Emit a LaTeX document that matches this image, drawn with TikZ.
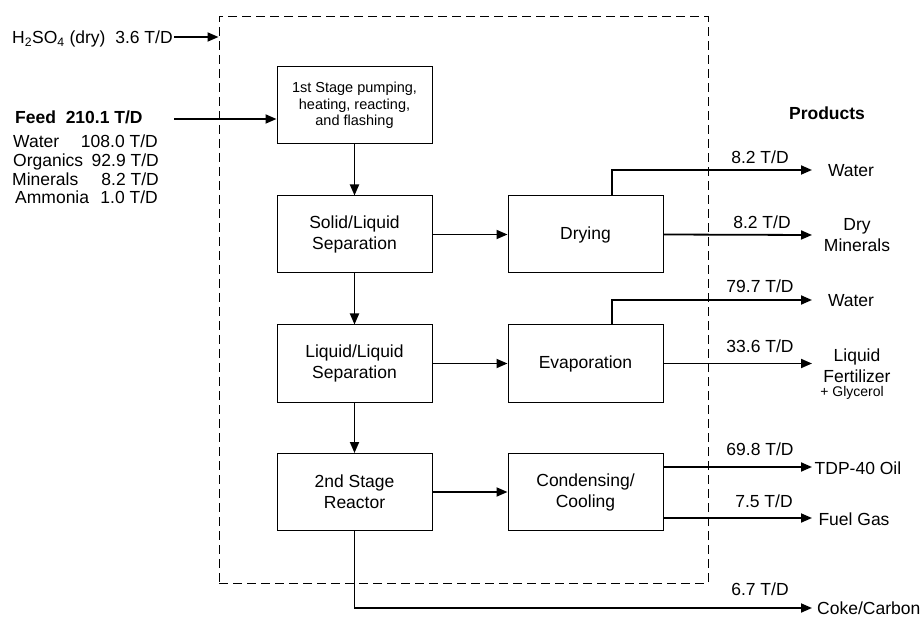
\documentclass[tikz,border=0pt]{standalone}
\usepackage{fontspec}
\setmainfont{Liberation Sans}
\usetikzlibrary{arrows.meta}
\begin{document}
\begin{tikzpicture}[x=1pt,y=-1pt,
  box/.style={draw, line width=1pt, minimum width=155pt, minimum height=77pt, inner sep=0pt, align=center, font=\fontsize{17.5}{21}\selectfont},
  firstbox/.style={box, font=\fontsize{14.5}{16.5}\selectfont},
  flow/.style={line width=1.8pt, -{Triangle[length=11pt,width=9pt]}},
  lbl/.style={inner sep=0pt, font=\fontsize{17.5}{21}\selectfont, align=center},
  smalllbl/.style={inner sep=0pt, font=\fontsize{14}{16}\selectfont, align=center},
  boundary/.style={draw, line width=1pt, dash pattern=on 9pt off 5pt, minimum width=489pt, minimum height=566pt, inner sep=0pt}]
\useasboundingbox (0,0) rectangle (923,617);

% plant boundary
\node[boundary] (plant) at (463.5,300) {};

% process boxes
\node[firstbox] (b1) at (354.5,105.5) {1st Stage pumping,\\heating, reacting,\\and flashing};
\node[box] (sl) at (354.5,234.5) {Solid/Liquid\\Separation};
\node[box] (ll) at (354.5,363.5) {Liquid/Liquid\\Separation};
\node[box] (r2) at (354.5,492) {2nd Stage\\Reactor};
\node[box] (dry) at (585.5,234.5) {Drying};
\node[box] (evap) at (585.5,363.5) {Evaporation};
\node[box] (cond) at (585.5,492) {Condensing/\\Cooling};

% inputs
\node[lbl, anchor=base west] (acid) at (12,44) {H\textsubscript{2}SO\textsubscript{4} (dry)\ \ 3.6 T/D};
\node[lbl, anchor=base west, font=\fontsize{17.5}{21}\selectfont\bfseries] (feed) at (15,124) {Feed\ \ 210.1 T/D};
\node[lbl, anchor=base west] (n1) at (13,148) {Water};
\node[lbl, anchor=base east] (v1) at (158,148) {108.0 T/D};
\node[lbl, anchor=base west] (n2) at (13,167) {Organics};
\node[lbl, anchor=base east] (v2) at (159,167) {92.9 T/D};
\node[lbl, anchor=base west] (n3) at (12,186) {Minerals};
\node[lbl, anchor=base east] (v3) at (159,186) {8.2 T/D};
\node[lbl, anchor=base west] (n4) at (15,204) {Ammonia};
\node[lbl, anchor=base east] (v4) at (158,204) {1.0 T/D};

\coordinate (acidstart) at (174,37);
\coordinate (feedstart) at (174,119);
\draw[flow] (acidstart) -- (acidstart -| plant.west);
\draw[flow] (feedstart) -- (feedstart -| b1.west);

% internal flows
\draw[flow] (b1) -- (sl);
\draw[flow] (sl) -- (ll);
\draw[flow] (ll) -- (r2);
\draw[flow] (sl) -- (dry);
\draw[flow] (ll) -- (evap);
\draw[flow] (r2) -- (cond);

% products
\node[lbl, font=\fontsize{17.5}{21}\selectfont\bfseries] (prod) at (827,113) {Products};

\coordinate (t1) at (812,170);
\coordinate (t2) at (812,235);
\coordinate (t3) at (812,300);
\coordinate (t4) at (812,363.5);
\coordinate (t5) at (812,467);
\coordinate (t6) at (812,518);
\coordinate (t7) at (812,608);

\draw[flow] ([xshift=26.5pt]dry.north) |- (t1);
\draw[flow] (dry.east) -- (t2);
\draw[flow] ([xshift=26.5pt]evap.north) |- (t3);
\draw[flow] (evap.east) -- (t4);
\draw[flow] (t5 -| cond.east) -- (t5);
\draw[flow] (t6 -| cond.east) -- (t6);
\draw[flow] (r2.south) |- (t7);

\node[lbl] (q1) at (760,157) {8.2 T/D};
\node[lbl] (p1) at (851,171) {Water};
\node[lbl] (q2) at (762,222) {8.2 T/D};
\node[lbl] (p2) at (857,235) {Dry\\Minerals};
\node[lbl] (q3) at (760,286) {79.7 T/D};
\node[lbl] (p3) at (851,301) {Water};
\node[lbl] (q4) at (760,346) {33.6 T/D};
\node[lbl] (p4) at (857,365.5) {Liquid\\Fertilizer};
\node[smalllbl] (p4b) at (852,393) {+ Glycerol};
\node[lbl] (q5) at (760,449) {69.8 T/D};
\node[lbl] (p5) at (858,468) {TDP-40 Oil};
\node[lbl] (q6) at (764,501) {7.5 T/D};
\node[lbl] (p6) at (854,519) {Fuel Gas};
\node[lbl] (q7) at (760,589) {6.7 T/D};
\node[lbl, anchor=west] (p7) at (817,608) {Coke/Carbon};
\end{tikzpicture}
\end{document}
